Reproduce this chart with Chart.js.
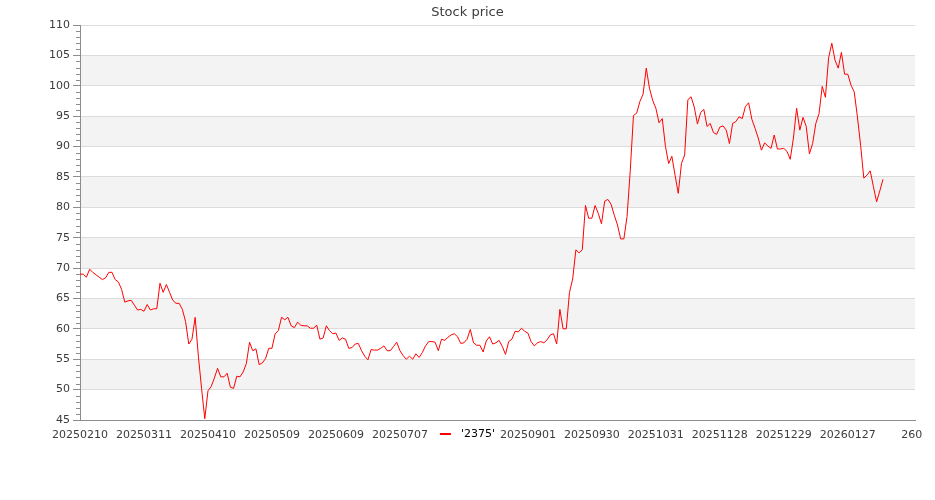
<!DOCTYPE html>
<html>
<head>
<meta charset="utf-8">
<script src="https://cdn.jsdelivr.net/npm/chart.js@4"></script>
<style>
  html, body { margin: 0; padding: 0; background: #ffffff; }
  #wrap { width: 935px; height: 500px; }
</style>
</head>
<body>
<div id="wrap"><canvas id="c" width="935" height="500"></canvas></div>
<script>
const seriesName = "'2375'";
const titleText = 'Stock price';

const values = [
  69.0, 69.0, 68.5, 69.8, 69.3, 68.9, 68.5, 68.1, 68.4, 69.3,
  69.3, 68.1, 67.7, 66.5, 64.4, 64.6, 64.7, 63.9, 63.1, 63.2,
  62.9, 64.0, 63.1, 63.3, 63.3, 67.5, 66.0, 67.3, 66.0, 64.7,
  64.2, 64.2, 63.2, 61.2, 57.5, 58.3, 61.9, 55.5, 50.2, 45.2,
  49.8, 50.5, 51.9, 53.5, 52.1, 52.1, 52.7, 50.4, 50.2, 52.2,
  52.1, 52.9, 54.3, 57.8, 56.4, 56.7, 54.1, 54.4, 55.1, 56.8,
  56.8, 59.2, 59.7, 61.9, 61.5, 61.9, 60.5, 60.2, 61.1, 60.6,
  60.5, 60.5, 60.1, 60.1, 60.6, 58.3, 58.5, 60.5, 59.7, 59.2,
  59.3, 58.1, 58.5, 58.3, 56.8, 56.9, 57.5, 57.6, 56.4, 55.5,
  54.9, 56.6, 56.5, 56.5, 56.8, 57.2, 56.4, 56.4, 57.1, 57.8,
  56.4, 55.6, 55.0, 55.5, 55.0, 55.9, 55.3, 56.1, 57.2, 57.9,
  57.9, 57.8, 56.4, 58.3, 58.1, 58.6, 59.0, 59.2, 58.7, 57.6,
  57.7, 58.3, 59.9, 57.7, 57.3, 57.3, 56.2, 58.0, 58.7, 57.5,
  57.7, 58.1, 57.1, 55.8, 57.9, 58.3, 59.6, 59.5, 60.1, 59.6,
  59.3, 57.9, 57.2, 57.7, 57.9, 57.7, 58.2, 59.0, 59.2, 57.5,
  63.2, 60.0, 60.0, 66.0, 68.2, 73.0, 72.5, 73.0, 80.3, 78.2,
  78.2, 80.3, 79.0, 77.3, 81.0, 81.3, 80.5, 78.7, 77.1, 74.8,
  74.8, 78.5, 86.1, 95.1, 95.5, 97.4, 98.6, 102.9, 99.6, 97.6,
  96.3, 93.9, 94.6, 90.0, 87.2, 88.4, 85.3, 82.3, 87.2, 88.6,
  97.7, 98.2, 96.5, 93.7, 95.6, 96.1, 93.3, 93.8, 92.3, 92.0,
  93.2, 93.4, 92.7, 90.5, 93.8, 94.1, 94.9, 94.6, 96.6, 97.2,
  94.5, 93.0, 91.4, 89.4, 90.6, 90.1, 89.7, 91.9, 89.6, 89.6,
  89.7, 89.2, 87.9, 91.4, 96.3, 92.7, 94.8, 93.3, 88.8, 90.5,
  93.8, 95.4, 99.9, 98.1, 104.6, 107.0, 104.2, 102.9, 105.5, 101.9,
  101.9, 100.1, 99.0, 94.9, 90.2, 84.8, 85.3, 86.0, 83.4, 80.9,
  82.7, 84.6
];

const xTickValues = [0, 20, 40, 60, 80, 100, 120, 140, 160, 180, 200, 220, 240, 260];
const xTickLabels = ['20250210', '20250311', '20250410', '20250509', '20250609', '20250707', '',
                     '20250901', '20250930', '20251031', '20251128', '20251229', '20260127', '260'];
const xMin = 0, xMax = 261;
const yMin = 45, yMax = 110, yStep = 5;
const bandRanges = [[50, 55], [60, 65], [70, 75], [80, 85], [90, 95], [100, 105]];

const AXIS = '#8c8c8c';
const TEXT = '#3c3c3c';

Chart.defaults.font.family = 'DejaVu Sans';
Chart.defaults.font.size = 11;
Chart.defaults.color = TEXT;

const bandsPlugin = {
  id: 'bands',
  beforeDraw(chart) {
    const {ctx, chartArea} = chart;
    const y = chart.scales.y;
    ctx.save();
    ctx.fillStyle = '#f3f3f3';
    bandRanges.forEach(([a, b]) => {
      const top = y.getPixelForValue(b), bot = y.getPixelForValue(a);
      ctx.fillRect(chartArea.left, top, chartArea.right - chartArea.left, bot - top);
    });
    ctx.restore();
  }
};

const minorTicksPlugin = {
  id: 'minorTicks',
  afterDraw(chart) {
    const {ctx, chartArea} = chart;
    const y = chart.scales.y;
    ctx.save();
    ctx.strokeStyle = AXIS;
    ctx.lineWidth = 1;
    ctx.beginPath();
    for (let v = yMin; v <= yMax; v += 1) {
      if (v % yStep === 0) continue;
      const p = Math.round(y.getPixelForValue(v)) + 0.5;
      ctx.moveTo(chartArea.left - 4, p);
      ctx.lineTo(chartArea.left, p);
    }
    ctx.stroke();
    ctx.restore();
  }
};

const legendPlugin = {
  id: 'inlineLegend',
  afterDraw(chart) {
    const {ctx} = chart;
    const x = chart.scales.x;
    const cx = x.getPixelForValue(xTickValues[6]);
    const cy = 434;
    ctx.save();
    ctx.strokeStyle = '#ff0000';
    ctx.lineWidth = 2;
    ctx.beginPath();
    ctx.moveTo(cx - 24, cy);
    ctx.lineTo(cx - 13, cy);
    ctx.stroke();
    ctx.fillStyle = '#000000';
    ctx.font = '11px "DejaVu Sans"';
    ctx.textAlign = 'left';
    ctx.textBaseline = 'middle';
    ctx.fillText(seriesName, cx - 3, cy);
    ctx.restore();
  }
};

new Chart(document.getElementById('c'), {
  type: 'line',
  data: {
    datasets: [{
      label: seriesName,
      data: values.map((v, i) => ({x: i, y: v})),
      borderColor: '#ff0000',
      borderWidth: 1,
      pointRadius: 0,
      tension: 0,
      fill: false
    }]
  },
  options: {
    responsive: false,
    animation: false,
    events: [],
    layout: { padding: { left: 0, right: 0, top: 0, bottom: 0 } },
    plugins: {
      legend: { display: false },
      tooltip: { enabled: false },
      title: {
        display: true,
        text: titleText,
        color: TEXT,
        font: { size: 13, weight: 'normal' },
        padding: { top: 5, bottom: 4.4 }
      }
    },
    scales: {
      x: {
        type: 'linear',
        min: xMin,
        max: xMax,
        afterBuildTicks: (scale) => { scale.ticks = xTickValues.map(v => ({value: v})); },
        afterFit: (scale) => { scale.height = 80; },
        grid: { display: false, drawTicks: false },
        border: { display: true, color: AXIS, width: 1 },
        ticks: {
          autoSkip: false,
          maxRotation: 0,
          minRotation: 0,
          padding: 9,
          color: TEXT,
          callback: (value, index) => xTickLabels[index]
        }
      },
      y: {
        type: 'linear',
        min: yMin,
        max: yMax,
        afterFit: (scale) => { scale.width = 80; },
        grid: { color: '#dcdcdc', lineWidth: 1, tickLength: 7, tickColor: AXIS, drawTicks: true },
        border: { display: true, color: AXIS, width: 1 },
        ticks: { stepSize: yStep, padding: 3, color: TEXT }
      },
      yRight: {
        type: 'linear',
        position: 'right',
        min: yMin,
        max: yMax,
        afterFit: (scale) => { scale.width = 20; },
        grid: { display: false, drawTicks: false },
        border: { display: false },
        ticks: { display: false }
      }
    }
  },
  plugins: [bandsPlugin, minorTicksPlugin, legendPlugin]
});
</script>
</body>
</html>
